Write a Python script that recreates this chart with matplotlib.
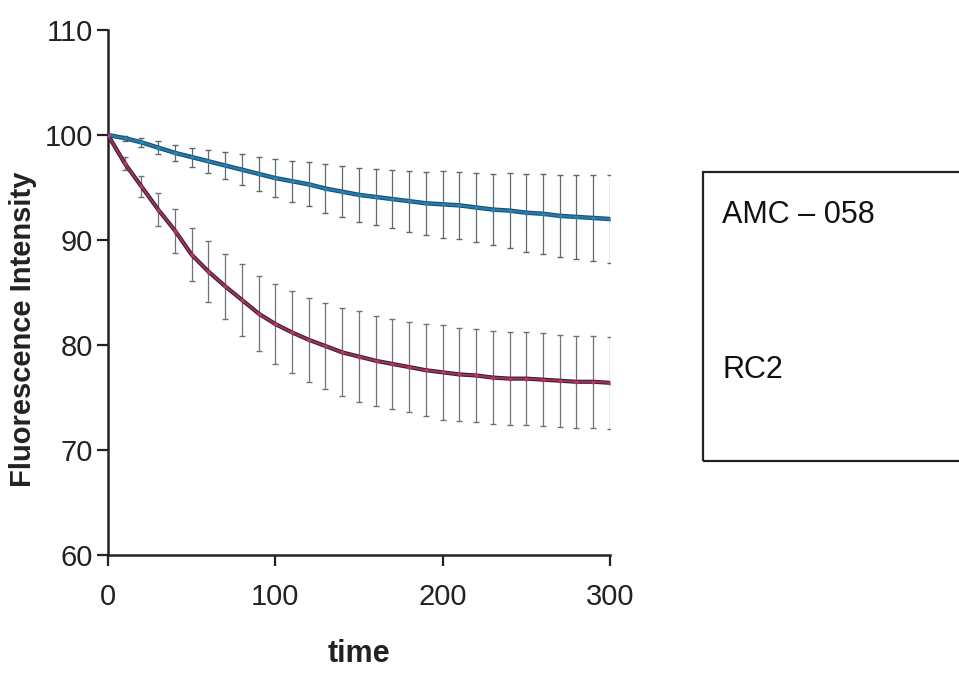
import matplotlib
matplotlib.use("Agg")
import matplotlib.pyplot as plt
from matplotlib.patches import Rectangle

plt.rcParams['font.family'] = ['Liberation Sans', 'DejaVu Sans']

# time points (s) and mean / error for each sample
time_pts = [0, 10, 20, 30, 40, 50, 60, 70, 80, 90, 100, 110, 120, 130, 140, 150,
            160, 170, 180, 190, 200, 210, 220, 230, 240, 250, 260, 270, 280, 290, 300]

amc_mean = [100, 99.7, 99.3, 98.8, 98.3, 97.9, 97.5, 97.1, 96.7, 96.3, 95.9, 95.6,
            95.3, 94.9, 94.6, 94.3, 94.1, 93.9, 93.7, 93.5, 93.4, 93.3, 93.1, 92.9,
            92.8, 92.6, 92.5, 92.3, 92.2, 92.1, 92.0]
amc_err = [0, 0.25, 0.45, 0.6, 0.75, 0.9, 1.1, 1.3, 1.45, 1.6, 1.8, 1.95, 2.1, 2.3,
           2.45, 2.6, 2.7, 2.8, 2.9, 3.0, 3.2, 3.2, 3.3, 3.4, 3.6, 3.7, 3.8, 3.9,
           4.0, 4.1, 4.2]

rc2_mean = [100, 97.3, 95.1, 92.9, 90.9, 88.6, 87.0, 85.6, 84.3, 83.0, 82.0, 81.2,
            80.5, 79.9, 79.3, 78.9, 78.5, 78.2, 77.9, 77.6, 77.4, 77.2, 77.1, 76.9,
            76.8, 76.8, 76.7, 76.6, 76.5, 76.5, 76.4]
rc2_err = [0, 0.6, 1.0, 1.6, 2.1, 2.5, 2.9, 3.1, 3.4, 3.6, 3.8, 3.9, 4.0, 4.1, 4.2,
           4.3, 4.3, 4.3, 4.3, 4.4, 4.5, 4.4, 4.4, 4.4, 4.4, 4.4, 4.4, 4.4, 4.4,
           4.4, 4.4]

labels = ['AMC \u2013 058', 'RC2']

fig = plt.figure(figsize=(9.59, 6.79), dpi=100)
ax = fig.add_axes([0.1126, 0.1826, 0.5234, 0.7732])

# error bars first, thin grey with caps
ax.errorbar(time_pts, amc_mean, yerr=amc_err, fmt='none', ecolor='#5a6a72',
            elinewidth=0.9, capsize=2.5, capthick=1.0, zorder=2)
ax.errorbar(time_pts, rc2_mean, yerr=rc2_err, fmt='none', ecolor='#74707a',
            elinewidth=0.9, capsize=2.5, capthick=1.0, zorder=2)

# mean curves: dark core with coloured overlay
ax.plot(time_pts, amc_mean, color='#18506e', lw=3.2, zorder=3)
ax.plot(time_pts, amc_mean, color='#2a86bd', lw=1.6, alpha=0.8, zorder=4,
        marker='o', ms=3, markeredgewidth=0)
ax.plot(time_pts, rc2_mean, color='#3c2231', lw=3.0, zorder=3)
ax.plot(time_pts, rc2_mean, color='#c8356f', lw=1.4, alpha=0.75, zorder=4,
        marker='o', ms=3, markeredgewidth=0)

ax.set_xlim(0, 300)
ax.set_ylim(60, 110)
ax.set_xticks([0, 100, 200, 300])
ax.set_yticks([60, 70, 80, 90, 100, 110])

for side in ['top', 'right']:
    ax.spines[side].set_visible(False)
for side in ['left', 'bottom']:
    ax.spines[side].set_linewidth(1.8)
    ax.spines[side].set_color('#222222')

ax.tick_params(axis='both', direction='out', length=8, width=1.6, color='#222222',
               labelsize=21, labelcolor='#222222')
ax.tick_params(axis='x', pad=12)
ax.tick_params(axis='y', pad=3)

ax.set_xlabel('time', fontsize=22, fontweight='bold', color='#222222', labelpad=20)
ax.set_ylabel('Fluorescence Intensity', fontsize=21, fontweight='bold',
              color='#222222')
ax.yaxis.set_label_coords(-0.142, 0.43)

# legend box on the right, running off the edge
box = Rectangle((0.733, 0.321), 0.30, 0.426, transform=fig.transFigure,
                fill=False, edgecolor='#222222', lw=1.6, clip_on=False)
fig.patches.append(box)
fig.text(0.753, 0.683, labels[0], fontsize=22, va='center', ha='left',
         color='#111111')
fig.text(0.753, 0.455, labels[1], fontsize=22, va='center', ha='left',
         color='#111111')

fig.savefig('out.png', dpi=100)
